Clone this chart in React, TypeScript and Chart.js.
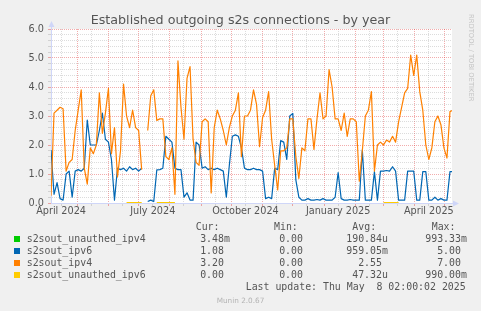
import React, { useEffect, useRef } from "react";
import { Chart, registerables } from "chart.js";
Chart.register(...registerables);

const TITLE = "Established outgoing s2s connections - by year";
// x axis in days; day 0 = 2024-04-05, last sample ~ 2025-05-08
const STEP_DAYS = 3;
const X_MAX_DAYS = 398;
const monthStartDays = [26, 57, 87, 118, 149, 179, 210, 240, 271, 302, 330, 361, 391];
const midMonthDays = [10, 40, 71, 101, 132, 163, 193, 224, 254, 285, 316, 344, 375];
const xLabelDays = [10, 101, 193, 285, 375];
const xLabels = ["April 2024", "July 2024", "October 2024", "January 2025", "April 2025"];

// s2sout_ipv4 (orange), one value every STEP_DAYS days
const ipv4: (number | null)[] = [
  0.25, 3.1, 3.2, 3.3, 3.25, 1.1, 1.4, 1.5, 2.5, 3.2,
  3.9, 1.2, 0.65, 1.9, 1.7, 2.0, 3.8, 2.4, 3.1, 3.95,
  1.7, 2.6, 0.9, 1.8, 4.1, 3.0, 2.6, 3.2, 2.6, 2.5,
  1.15, null, 2.5, 3.7, 3.9, 2.85, 2.9, 2.9, 1.6, 1.5,
  1.9, 0.3, 4.9, 3.3, 2.2, 4.3, 4.7, 2.2, 1.4, 1.3,
  2.8, 2.9, 2.8, 0.35, 2.6, 3.2, 2.9, 2.5, 2.0, 2.6,
  3.0, 3.2, 3.8, 1.6, 3.0, 3.0, 3.2, 3.9, 3.4, 1.94,
  2.95, 3.2, 3.84, 2.2, 1.3, 0.45, 1.8, 1.8, 1.9, 2.9,
  2.9, 1.6, 0.85, 1.9, 1.8, 2.9, 2.9, 1.85, 2.9, 3.8,
  2.9, 3.0, 4.6, 4.0, 2.9, 2.9, 2.5, 3.1, 2.3, 2.9,
  2.9, 2.8, 0.75, 1.8, 3.0, 3.2, 3.84, 1.1, 2.0, 2.1,
  2.0, 2.17, 2.1, 2.3, 2.1, 2.8, 3.3, 3.8, 3.95, 5.1,
  4.4, 5.1, 3.84, 3.2, 2.0, 1.5, 1.9, 2.8, 3.0, 2.7,
  1.9, 1.55, 3.15, 3.2,
];

// s2sout_ipv6 (blue)
const ipv6: (number | null)[] = [
  1.83, 0.3, 0.7, 0.15, 0.1, 1.0, 1.1, 0.2, 1.1, 1.15,
  1.1, 1.2, 2.86, 2.0, 2.0, 2.0, 2.5, 3.1, 2.2, 2.1,
  1.5, 0.1, 1.2, 1.15, 1.2, 1.1, 1.25, 1.15, 1.2, 1.1,
  1.2, null, 0.05, 0.1, 0.05, 1.14, 1.15, 1.2, 2.3, 2.2,
  2.1, 1.2, 1.15, 1.15, 0.2, 0.35, 0.1, 0.1, 2.1, 2.0,
  1.2, 1.25, 1.15, 1.2, 1.15, 1.2, 1.15, 1.1, 0.2, 1.3,
  2.3, 2.35, 2.3, 1.9, 1.2, 1.15, 1.15, 1.2, 1.15, 1.15,
  1.1, 0.15, 0.2, 0.15, 1.2, 1.15, 2.15, 2.1, 1.5, 3.0,
  3.09, 0.8, 0.2, 0.1, 0.1, 0.15, 0.1, 0.1, 0.12, 0.1,
  0.15, 0.1, 0.1, 0.1, 0.2, 1.05, 0.15, 0.1, 0.1, 0.12,
  0.1, 0.1, 0.1, 1.83, 0.1, 0.1, 0.1, 1.08, 0.1, 1.1,
  1.1, 1.12, 1.1, 1.25, 1.1, 0.1, 0.1, 0.1, 1.1, 1.1,
  1.1, 0.1, 0.1, 1.08, 1.08, 0.1, 0.1, 0.2, 0.1, 0.15,
  0.1, 0.1, 1.08, 1.08,
];

// s2sout_unauthed_ipv6 (yellow), only short near-zero stretches are visible
const unauthIpv6Days = [75, 90, 91, 105, 123, 124, 330, 345];
const unauthIpv6: (number | null)[] = [0.01, 0.01, null, 0.01, 0.01, null, 0.01, 0.01];
// s2sout_unauthed_ipv4 (green), not visible on the graph
const unauthIpv4Days: number[] = [];
const unauthIpv4: number[] = [];

const legendNames = ["s2sout_unauthed_ipv4", "s2sout_ipv6", "s2sout_ipv4", "s2sout_unauthed_ipv6"];
const legendColors = ["#00cc00", "#0066b3", "#ff8000", "#ffcc00"];
const curValues = ["3.48m", "1.08", "3.20", "0.00"];
const minValues = ["0.00", "0.00", "0.00", "0.00"];
const avgValues = ["190.84u", "959.05m", "2.55", "47.32u"];
const maxValues = ["993.33m", "5.00", "7.00", "990.00m"];
const LAST_UPDATE = "Last update: Thu May  8 02:00:02 2025";
const MUNIN = "Munin 2.0.67";
const RRD = "RRDTOOL / TOBI OETIKER";

const FONT_COLOR = "#555555";
const AXIS_COLOR = "#cfd6f8";
const GRID_COLOR = "rgba(140,140,140,0.3)";
const MGRID_COLOR = "rgba(222,48,48,0.4)";

const series = (vals: (number | null)[]) => vals.map((v, i) => ({ x: i * STEP_DAYS, y: v }));
const pairs = (xs: number[], ys: (number | null)[]) => xs.map((x, i) => ({ x, y: ys[i] }));
const isInt = (v: number) => Math.abs(v - Math.round(v)) < 1e-6;

const fmtField = (s: string) => {
  const last = s[s.length - 1];
  const hasUnit = /[a-z]/i.test(last);
  const num = hasUnit ? s.slice(0, -1) : s;
  return num.padStart(6, " ") + (hasUnit ? last : " ");
};

const decorPlugin = {
  id: "decor",
  beforeDraw(chart: any) {
    const { ctx, chartArea: a } = chart;
    ctx.save();
    ctx.fillStyle = "#ffffff";
    ctx.fillRect(a.left, a.top, a.right - a.left, a.bottom - a.top);
    ctx.restore();
  },
  afterDraw(chart: any) {
    const { ctx, chartArea: a } = chart;
    ctx.save();
    ctx.strokeStyle = AXIS_COLOR;
    ctx.fillStyle = AXIS_COLOR;
    ctx.lineWidth = 1;
    const lx = Math.round(a.left) + 0.5;
    const by = Math.round(a.bottom) + 0.5;
    ctx.beginPath();
    ctx.moveTo(lx, a.top);
    ctx.lineTo(lx, a.top - 4);
    ctx.moveTo(a.right, by);
    ctx.lineTo(a.right + 3, by);
    ctx.stroke();
    ctx.beginPath();
    ctx.moveTo(lx, a.top - 8);
    ctx.lineTo(lx - 3, a.top - 2);
    ctx.lineTo(lx + 3, a.top - 2);
    ctx.closePath();
    ctx.fill();
    ctx.beginPath();
    ctx.moveTo(a.right + 7, by);
    ctx.lineTo(a.right + 1, by - 3);
    ctx.lineTo(a.right + 1, by + 3);
    ctx.closePath();
    ctx.fill();
    ctx.restore();
  },
};

export default function App() {
  const ref = useRef<HTMLCanvasElement>(null);
  useEffect(() => {
    const tickFont = { family: "'DejaVu Sans'", size: 9.7 };
    const lineDefaults = { pointRadius: 0, borderWidth: 1.2, tension: 0, fill: false, spanGaps: false, borderJoinStyle: "round" as const };
    const chart = new Chart(ref.current!, {
      type: "line",
      data: {
        datasets: [
          { ...lineDefaults, label: legendNames[3], data: pairs(unauthIpv6Days, unauthIpv6), borderColor: legendColors[3], order: 0 },
          { ...lineDefaults, label: legendNames[2], data: series(ipv4), borderColor: legendColors[2], order: 1 },
          { ...lineDefaults, label: legendNames[1], data: series(ipv6), borderColor: legendColors[1], order: 2 },
          { ...lineDefaults, label: legendNames[0], data: pairs(unauthIpv4Days, unauthIpv4), borderColor: legendColors[0], order: 3 },
        ],
      },
      options: {
        animation: false,
        responsive: false,
        devicePixelRatio: 1,
        layout: { padding: { left: 0, right: 29, top: 29, bottom: 0 } },
        plugins: { legend: { display: false }, tooltip: { enabled: false }, title: { display: false } },
        scales: {
          x: {
            type: "linear",
            min: 0,
            max: X_MAX_DAYS,
            afterBuildTicks: (s: any) => {
              s.ticks = [...monthStartDays, ...midMonthDays].sort((p, q) => p - q).map((v) => ({ value: v }));
            },
            afterFit: (s: any) => { s.height = 27; },
            ticks: {
              autoSkip: false,
              maxRotation: 0,
              minRotation: 0,
              padding: 0,
              font: tickFont,
              color: FONT_COLOR,
              callback: (v: any) => {
                const k = xLabelDays.indexOf(Number(v));
                return k >= 0 ? xLabels[k] : "";
              },
            },
            grid: {
              color: (c: any) => (c.tick && monthStartDays.includes(c.tick.value) ? MGRID_COLOR : GRID_COLOR),
              tickLength: 3,
              lineWidth: 1,
            },
            border: { color: AXIS_COLOR, width: 1, dash: [1, 1] },
          },
          y: {
            min: 0,
            max: 6,
            afterFit: (s: any) => { s.width = 51; },
            ticks: {
              stepSize: 0.2,
              autoSkip: false,
              padding: 4,
              font: tickFont,
              color: FONT_COLOR,
              callback: (v: any) => (isInt(Number(v)) ? Number(v).toFixed(1) : ""),
            },
            grid: {
              color: (c: any) => (c.tick && isInt(c.tick.value) ? MGRID_COLOR : GRID_COLOR),
              tickLength: 3,
              lineWidth: 1,
            },
            border: { color: AXIS_COLOR, width: 1, dash: [1, 1] },
          },
        },
      },
      plugins: [decorPlugin],
    } as any);
    return () => chart.destroy();
  }, []);

  const mono = "'DejaVu Sans Mono', monospace";
  const LF = 9.9;
  const cw = 0.602 * LF;
  const topFor = (baseline: number, size: number) => baseline - 0.846 * size;
  const txt = (left: number, baseline: number, s: string, extra: any = {}) => (
    <div
      key={`${left}-${baseline}-${s}`}
      style={{
        position: "absolute",
        left,
        top: topFor(baseline, LF),
        fontFamily: mono,
        fontSize: LF,
        lineHeight: `${LF}px`,
        whiteSpace: "pre",
        color: FONT_COLOR,
        ...extra,
      }}
    >
      {s}
    </div>
  );
  const rowBase = [242.3, 254.3, 266.3, 278.3];
  const fieldRight = [230, 309, 388, 467];
  const cols = [curValues, minValues, avgValues, maxValues];

  return (
    <div style={{ position: "absolute", left: 0, top: 0, width: 481, height: 311, background: "#f0f0f0", overflow: "hidden" }}>
      <canvas ref={ref} width={481} height={230} style={{ position: "absolute", left: 0, top: 0 }} />
      <div
        style={{
          position: "absolute",
          left: 0,
          width: 481,
          top: topFor(25, 12.7),
          textAlign: "center",
          fontFamily: "'DejaVu Sans'",
          fontSize: 12.7,
          lineHeight: "12.7px",
          color: FONT_COLOR,
          whiteSpace: "pre",
        }}
      >
        {TITLE}
      </div>
      <div
        style={{
          position: "absolute",
          left: 467,
          top: 14,
          writingMode: "vertical-rl",
          fontFamily: "'DejaVu Sans'",
          fontSize: 6.8,
          lineHeight: "8px",
          color: "#c4c4c4",
          whiteSpace: "pre",
        }}
      >
        {RRD}
      </div>
      {txt(195.7, 230.3, "Cur:")}
      {txt(274, 230.3, "Min:")}
      {txt(352.3, 230.3, "Avg:")}
      {txt(431.7, 230.3, "Max:")}
      {legendNames.map((name, r) => (
        <React.Fragment key={name}>
          <div style={{ position: "absolute", left: 14, top: rowBase[r] - 6, width: 6, height: 6, background: legendColors[r] }} />
          {txt(26.7, rowBase[r], name)}
          {cols.map((col, c) => txt(fieldRight[c] - 7 * cw, rowBase[r], fmtField(col[r])))}
        </React.Fragment>
      ))}
      {txt(245.7, 290.3, LAST_UPDATE)}
      <div
        style={{
          position: "absolute",
          left: 0,
          width: 481,
          top: topFor(302.7, 7.3),
          textAlign: "center",
          fontFamily: "'DejaVu Sans'",
          fontSize: 7.3,
          lineHeight: "7.3px",
          color: "#b4b4b4",
          whiteSpace: "pre",
        }}
      >
        {MUNIN}
      </div>
    </div>
  );
}
